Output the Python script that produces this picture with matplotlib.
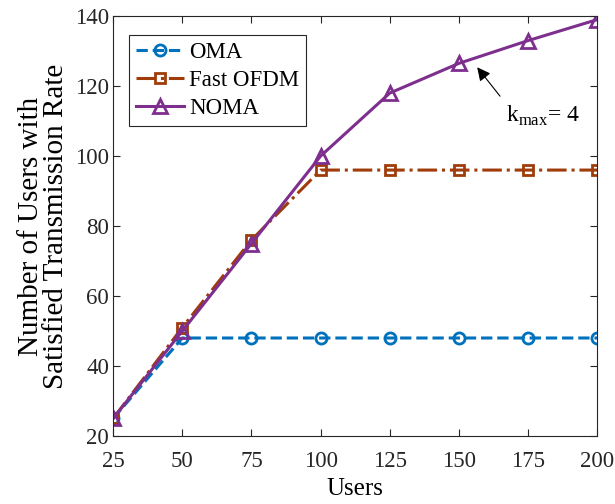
import numpy as np
import matplotlib
matplotlib.use('Agg')
from matplotlib import pyplot as plt

users = [25, 50, 75, 100, 125, 150, 175, 200]
oma = [25, 48, 48, 48, 48, 48, 48, 48]
fast_ofdm = [25, 51, 76, 96, 96, 96, 96, 96]
noma = [25, 50, 75, 100, 118, 126.5, 133, 139]

plt.rcParams['font.family'] = ['Liberation Serif', 'DejaVu Serif']
plt.rcParams['mathtext.fontset'] = 'custom'
plt.rcParams['mathtext.rm'] = 'Liberation Serif'

fig = plt.figure(figsize=(6.15, 5.04), dpi=100)
ax = fig.add_axes([0.184, 0.135, 0.787, 0.833])

ax.plot(users, oma, '--o', color='#0072BD', lw=2.2, ms=8, mfc='none', mew=2, label='OMA')
ax.plot(users, fast_ofdm, '-.s', color='#A03C0A', lw=2.2, ms=7.5, mfc='none', mew=2, label='Fast OFDM')
ax.plot(users, noma, '-^', color='#7E2F8E', lw=2.2, ms=10, mfc='none', mew=2, label='NOMA')

ax.set_xlim(25, 200)
ax.set_ylim(20, 140)
ax.set_xticks(users)
ax.set_yticks(np.arange(20, 141, 20))
ax.tick_params(direction='in', labelsize=16.5, length=5, top=True, right=True,
               labeltop=False, labelright=False, pad=3, colors='#262626')
ax.tick_params(axis='x', pad=11)
for s in ax.spines.values():
    s.set_linewidth(0.8)
    s.set_color('#262626')

ax.set_xlabel('Users', fontsize=18, labelpad=4)
ax.set_ylabel('Number of Users with\nSatisfied Transmission Rate', fontsize=21,
              linespacing=0.95, labelpad=4)

# arrow to the NOMA curve
ax.annotate('', xy=(156, 126), xytext=(165.5, 116.5),
            arrowprops=dict(arrowstyle='-|>', color='black', lw=0.8, mutation_scale=20))
ax.text(167, 111.5, r'k$_{\rm max}$= 4', fontsize=17, ha='left', va='center')

leg = ax.legend(loc='upper left', bbox_to_anchor=(0.032, 0.955), fontsize=16.5,
                handlelength=2.1, fancybox=False, framealpha=1, borderpad=0.3,
                labelspacing=0.3, handletextpad=0.25, borderaxespad=0)
leg.get_frame().set_edgecolor('#262626')
leg.get_frame().set_linewidth(0.8)

fig.savefig('out.png', dpi=100)
